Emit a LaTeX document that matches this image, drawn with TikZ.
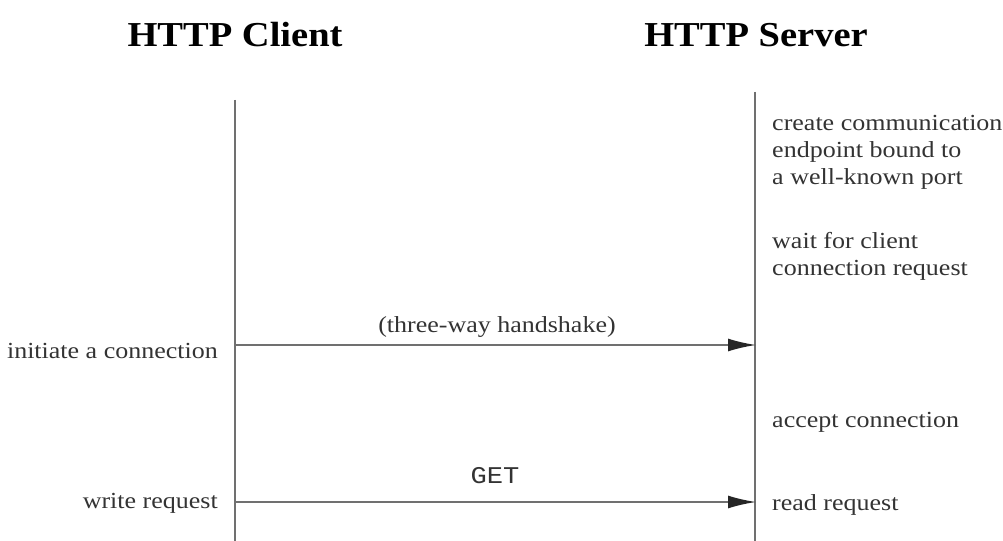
\documentclass[tikz,border=0pt]{standalone}
\usepackage{fontspec}
\setmainfont{Liberation Serif}
\setmonofont{Liberation Mono}
\usetikzlibrary{arrows.meta}
\definecolor{linegray}{HTML}{707070}
\definecolor{textgray}{HTML}{333333}
\tikzset{
  title/.style={font=\bfseries\fontsize{35bp}{38bp}\selectfont, xscale=1.1, text=black, inner sep=0},
  lbl/.style={font=\fontsize{23bp}{27bp}\selectfont, xscale=1.13, text=textgray, inner sep=0},
  lifeline/.style={draw=linegray, line width=1.8bp},
  msg/.style={draw=linegray, line width=1.8bp, -{Latex[length=28bp,width=13bp,color=black!85]}},
}
\begin{document}
\begin{tikzpicture}[x=1bp,y=-1bp]
\useasboundingbox[fill=white] (0,0) rectangle (1003,541);
\node[title] (ctitle) at (235,35) {HTTP Client};
\node[title] (stitle) at (756,35) {HTTP Server};
\coordinate (ctop) at (235,100);
\coordinate (cbot) at (235,541);
\coordinate (stop) at (755,92);
\coordinate (sbot) at (755,541);
\draw[lifeline] (ctop) -- (cbot);
\draw[lifeline] (stop) -- (sbot);
\coordinate (c1) at (235,345);
\coordinate (s1) at (756,345);
\coordinate (c2) at (235,502);
\coordinate (s2) at (756,502);
\draw[msg] (c1) -- (s1);
\draw[msg] (c2) -- (s2);
\node[lbl, anchor=base] (hs) at (497,333) {(three-way handshake)};
\node[lbl, anchor=base, font=\ttfamily\fontsize{24bp}{27bp}\selectfont, xscale=1] (get) at (495,483) {GET};
\node[lbl, anchor=base east] (init) at (218,359) {initiate a connection};
\node[lbl, anchor=base east] (write) at (218,508) {write request};
\node[lbl, anchor=north west, align=left, font=\fontsize{23bp}{27bp}\selectfont] (create) at (772,115) {create communication\\endpoint bound to\\a well-known port};
\node[lbl, anchor=north west, align=left, font=\fontsize{23bp}{27bp}\selectfont] (wait) at (772,232) {wait for client\\connection request};
\node[lbl, anchor=base west] (accept) at (772,427) {accept connection};
\node[lbl, anchor=base west] (read) at (772,510) {read request};
\end{tikzpicture}
\end{document}
